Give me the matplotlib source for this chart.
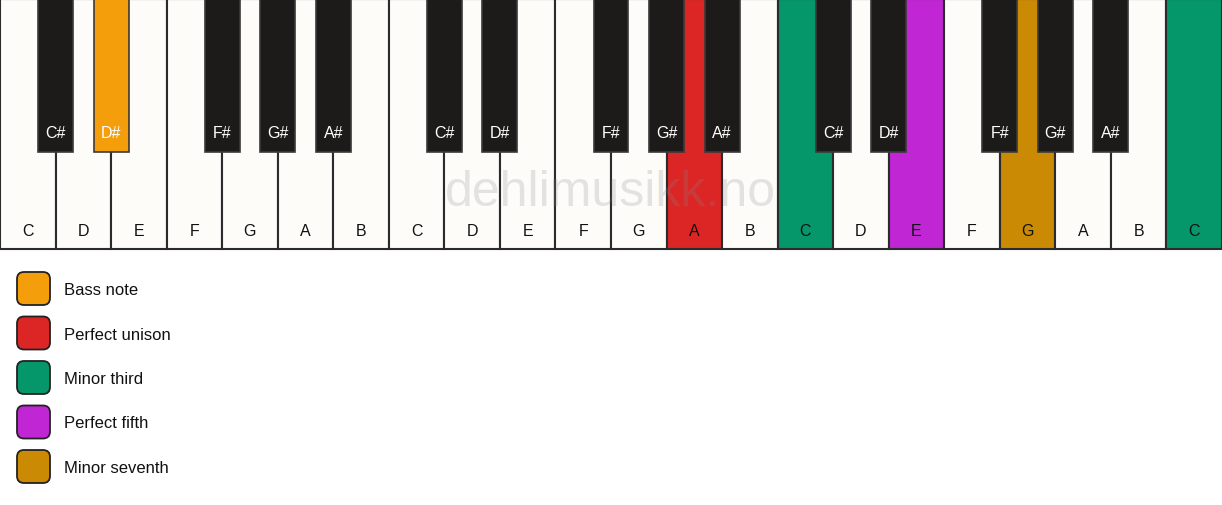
import matplotlib
matplotlib.use("Agg")
import matplotlib.pyplot as plt
from matplotlib.patches import Rectangle, FancyBboxPatch

plt.rcParams['font.family'] = ['Liberation Sans', 'DejaVu Sans']

# Data
white_notes = ["C", "D", "E", "F", "G", "A", "B"] * 3 + ["C"]
black_pattern = {0: "C#", 1: "D#", 3: "F#", 4: "G#", 5: "A#"}  # after white index within octave
highlights_white = {12: "unison", 14: "third", 16: "fifth", 18: "seventh", 21: "third"}
highlights_black = {(0, 1): "bass"}  # (octave, position) -> role
legend_roles = ["bass", "unison", "third", "fifth", "seventh"]
legend_labels = ["Bass note", "Perfect unison", "Minor third", "Perfect fifth", "Minor seventh"]
role_colors = {
    "bass": "#F59E0B",
    "unison": "#DC2626",
    "third": "#059669",
    "fifth": "#C026D3",
    "seventh": "#CA8A04",
}

W, H = 1222, 506
fig = plt.figure(figsize=(W / 100, H / 100), dpi=100)
ax = fig.add_axes([0, 0, 1, 1])
ax.set_xlim(0, W)
ax.set_ylim(H, 0)
ax.axis("off")

n_white = len(white_notes)
kw = W / n_white
kb_h = 250
bk_w = kw * 0.63
bk_h = 153

# White keys
for i, note in enumerate(white_notes):
    fc = role_colors[highlights_white[i]] if i in highlights_white else "#FDFCF9"
    ax.add_patch(Rectangle((i * kw, 0), kw, kb_h, facecolor=fc, edgecolor="#2b2b2b",
                           linewidth=1.5, zorder=1))
    ax.text(i * kw + kw / 2, 231, note, ha="center", va="center", fontsize=11.5,
            color="#111111", zorder=5)

# Black keys
for i in range(n_white - 1):
    pos = i % 7
    octv = i // 7
    if pos in black_pattern:
        name = black_pattern[pos]
        role = highlights_black.get((octv, pos))
        fc = role_colors[role] if role else "#1C1B1A"
        cx = (i + 1) * kw
        ax.add_patch(Rectangle((cx - bk_w / 2, 0), bk_w, bk_h, facecolor=fc,
                               edgecolor="#3a3a3a", linewidth=1.2, zorder=3))
        ax.text(cx, 133, name, ha="center", va="center", fontsize=11.5,
                color="#FFFFFF", zorder=5)

# Watermark
ax.text(W / 2 - 1, 193, "dehlimusikk.no", ha="center", va="center", fontsize=36,
        color="#888888", alpha=0.22, zorder=6)

# Legend
for j, (role, lab) in enumerate(zip(legend_roles, legend_labels)):
    cy = 289.5 + j * 44.5
    ax.add_patch(FancyBboxPatch((17 + 5, cy - 16.5 + 5), 33 - 10, 33 - 10,
                                boxstyle="round,pad=5,rounding_size=7",
                                facecolor=role_colors[role], edgecolor="#222222",
                                linewidth=1.3, zorder=2))
    ax.text(64, cy + 1, lab, ha="left", va="center", fontsize=12, color="#111111")

fig.savefig("out.png", dpi=100, facecolor="white")
